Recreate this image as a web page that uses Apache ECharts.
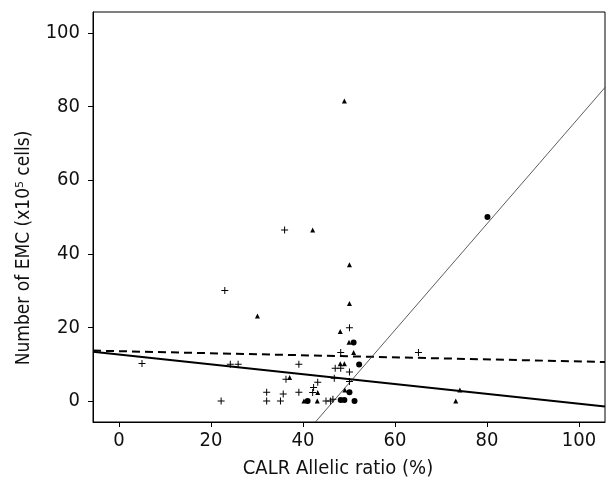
<!DOCTYPE html>
<html><head><meta charset="utf-8">
<script src="https://cdn.jsdelivr.net/npm/echarts@6/dist/echarts.min.js"></script>
<style>html,body{margin:0;padding:0;background:#fff}#c{width:613px;height:487px}</style>
</head><body><div id="c"></div>
<script>
var xTicks = [0, 20, 40, 60, 80, 100];
var yTicks = [0, 20, 40, 60, 80, 100];
var plusPts = [[5.0,10.2],[22.2,0],[23.0,30],[36.0,46.5],[50.1,19.9],[48.2,13.2],[65.1,13.2],[24.2,10.0],[25.9,10.0],[39.1,10.0],[47.0,8.9],[48.2,8.9],[50.1,7.9],[46.8,6.2],[36.3,5.9],[43.2,5.1],[50.1,5.3],[42.3,3.7],[32.1,2.4],[35.7,1.9],[39.1,2.4],[42.1,2.3],[32.1,0],[35.1,0],[45.0,0],[46.0,0],[46.5,0.5]];
var triPts = [[30.1,23.1],[42.1,46.5],[49.0,81.5],[50.1,37.0],[50.1,26.5],[48.1,18.9],[50.0,16.0],[51.0,13.2],[48.1,10.1],[49.0,10.1],[37.1,6.4],[49.1,3.0],[43.2,2.3],[40.2,0],[43.1,0],[73.2,0],[74.1,3.0]];
var dotPts = [[51.0,15.9],[52.2,9.9],[50.1,2.4],[41.0,0],[48.2,0.3],[49.0,0.3],[51.2,0],[80.1,50.0]];
var solidFit = [[-5.65,13.4],[105.65,-1.5]];
var dashedFit = [[-5.65,13.7],[105.65,10.6]];
var thinFit = [[42.7,-5.7],[105.65,85.2]];

var FONT = "'Liberation Sans Narrow','DejaVu Sans Condensed','Liberation Sans',sans-serif";
var chart = echarts.init(document.getElementById('c'), null, {renderer:'canvas'});
chart.setOption({
  animation: false,
  backgroundColor: '#fff',
  grid: {left: 93, right: 8, top: 12, bottom: 65, show: true, borderColor: '#000', borderWidth: 1, backgroundColor: 'transparent'},
  xAxis: {
    type: 'value', min: -5.65, max: 105.65,
    splitLine: {show: false},
    axisLine: {show: true, onZero: false, lineStyle: {color: '#000', width: 1}},
    axisTick: {show: true, length: 5, customValues: xTicks, lineStyle: {color: '#000'}},
    axisLabel: {customValues: xTicks, color: '#111', fontFamily: FONT, fontSize: 20, margin: 9},
    name: 'CALR Allelic ratio (%)', nameLocation: 'middle', nameGap: 37,
    nameTextStyle: {color: '#111', fontFamily: FONT, fontSize: 20, padding: [0, 22, 0, 0]}
  },
  yAxis: {
    type: 'value', min: -5.7, max: 105.7,
    splitLine: {show: false},
    axisLine: {show: true, onZero: false, lineStyle: {color: '#000', width: 1}},
    axisTick: {show: true, length: 5, customValues: yTicks, lineStyle: {color: '#000'}},
    axisLabel: {customValues: yTicks, color: '#111', fontFamily: FONT, fontSize: 20, margin: 13},
    name: 'Number of EMC (x10\u2075 cells)', nameLocation: 'middle', nameGap: 59,
    nameTextStyle: {color: '#111', fontFamily: FONT, fontSize: 19, padding: [0, 62, 0, 0]}
  },
  series: [
    {type: 'line', data: solidFit, symbol: 'none', clip: true, lineStyle: {color: '#000', width: 2}, z: 3},
    {type: 'line', data: dashedFit, symbol: 'none', clip: true, lineStyle: {color: '#000', width: 2, type: [8, 5]}, z: 3},
    {type: 'line', data: thinFit, symbol: 'none', clip: true, lineStyle: {color: '#333', width: 0.8}, z: 3},
    {type: 'scatter', data: plusPts, symbol: 'path://M3,0h1v3h3v1h-3v3h-1v-3h-3v-1h3z', symbolSize: 7, itemStyle: {color: '#000', opacity: 1}, z: 4},
    {type: 'scatter', data: triPts, symbol: 'triangle', symbolSize: 5, itemStyle: {color: '#000', opacity: 1}, z: 4},
    {type: 'scatter', data: dotPts, symbol: 'circle', symbolSize: 6, itemStyle: {color: '#000', opacity: 1}, z: 4}
  ]
});
</script>
</body></html>
